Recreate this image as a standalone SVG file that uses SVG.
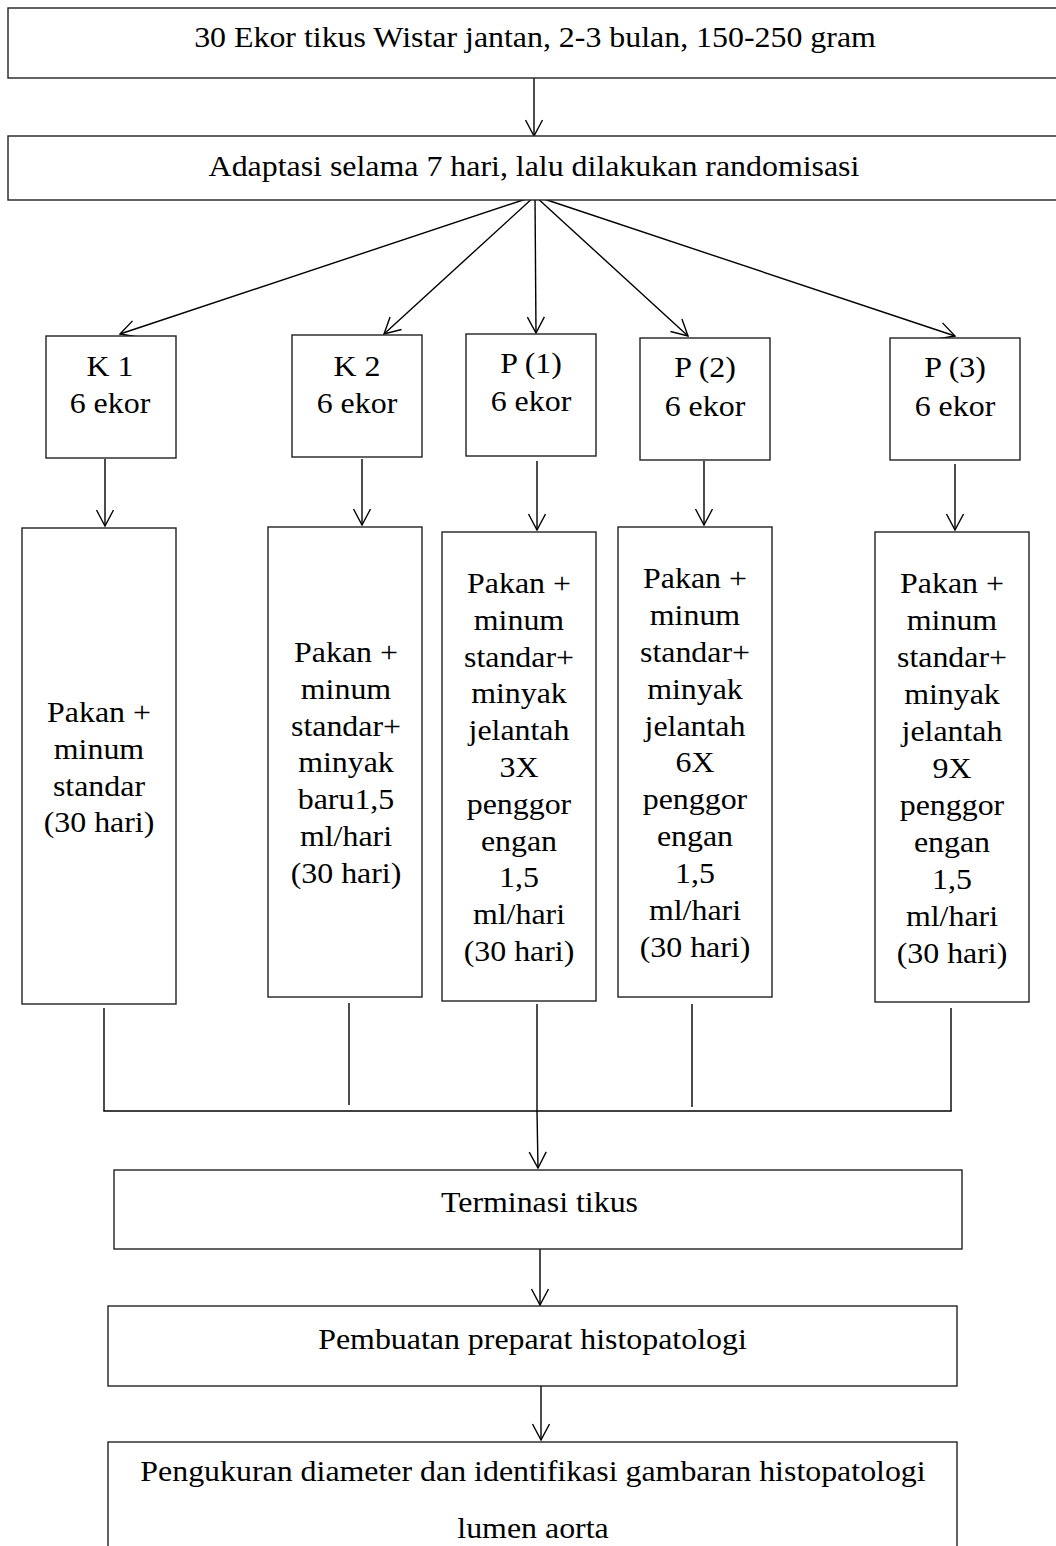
<svg xmlns="http://www.w3.org/2000/svg" width="1056" height="1546" viewBox="0 0 1056 1546">
<style>
.box{fill:#fff;stroke:#222;stroke-width:1.4}
.ln{fill:none;stroke:#000;stroke-width:1.4}
.ar{fill:none;stroke:#000;stroke-width:1.4;marker-end:url(#ah)}
text{font-family:"Liberation Serif","Times New Roman",serif;font-size:29px;fill:#000;text-anchor:middle}
</style>
<defs>
<marker id="ah" markerUnits="userSpaceOnUse" viewBox="-18 -10 20 20" refX="0" refY="0" markerWidth="20" markerHeight="20" orient="auto">
<path d="M-16,-8.5 L0,0 L-16,8.5" fill="none" stroke="#000" stroke-width="1.4"/>
</marker>
</defs>
<rect width="1056" height="1546" fill="#fff"/>

<g id="connectors">
<line class="ar" x1="534" y1="78" x2="534" y2="136"/>
<line class="ar" x1="535" y1="196" x2="120" y2="334"/>
<line class="ar" x1="535" y1="196" x2="384" y2="334"/>
<line class="ar" x1="535" y1="196" x2="536" y2="333"/>
<line class="ar" x1="535" y1="196" x2="688" y2="336"/>
<line class="ar" x1="535" y1="196" x2="955" y2="336"/>
<line class="ar" x1="105" y1="459" x2="105" y2="526"/>
<line class="ar" x1="362" y1="459" x2="362" y2="525"/>
<line class="ar" x1="537" y1="461" x2="537" y2="530"/>
<line class="ar" x1="704" y1="461" x2="704" y2="525"/>
<line class="ar" x1="955" y1="464" x2="955" y2="530"/>
<line class="ln" x1="104" y1="1008" x2="104" y2="1111"/>
<line class="ln" x1="349" y1="1003" x2="349" y2="1105"/>
<line class="ln" x1="537" y1="1004" x2="537" y2="1111"/>
<line class="ln" x1="692" y1="1004" x2="692" y2="1107"/>
<line class="ln" x1="951" y1="1008" x2="951" y2="1111"/>
<line class="ln" x1="103.3" y1="1111" x2="951.7" y2="1111"/>
<line class="ar" x1="537" y1="1111" x2="538" y2="1168"/>
<line class="ar" x1="540" y1="1249" x2="540" y2="1305"/>
<line class="ar" x1="541" y1="1386" x2="541" y2="1440"/>
</g>

<g id="n-start">
<rect class="box" x="8" y="8" width="1060" height="70"/>
<text transform="translate(535 0) scale(1.1 1)" x="0" y="47.5">30 Ekor tikus Wistar jantan, 2-3 bulan, 150-250 gram</text>
</g>
<g id="n-adaptasi">
<rect class="box" x="8" y="136" width="1060" height="64"/>
<text transform="translate(534 0) scale(1.1 1)" x="0" y="176">Adaptasi selama 7 hari, lalu dilakukan randomisasi</text>
</g>

<g id="n-k1">
<rect class="box" x="46" y="336" width="130" height="122"/>
<text transform="translate(110 0) scale(1.1 1)" x="0" y="376"><tspan x="0">K 1</tspan><tspan x="0" dy="37.3">6 ekor</tspan></text>
</g>
<g id="n-k2">
<rect class="box" x="292" y="335" width="130" height="122"/>
<text transform="translate(357 0) scale(1.1 1)" x="0" y="376"><tspan x="0">K 2</tspan><tspan x="0" dy="37.3">6 ekor</tspan></text>
</g>
<g id="n-p1">
<rect class="box" x="466" y="334" width="130" height="122"/>
<text transform="translate(531 0) scale(1.1 1)" x="0" y="373"><tspan x="0">P (1)</tspan><tspan x="0" dy="38.5">6 ekor</tspan></text>
</g>
<g id="n-p2">
<rect class="box" x="640" y="338" width="130" height="122"/>
<text transform="translate(705 0) scale(1.1 1)" x="0" y="377"><tspan x="0">P (2)</tspan><tspan x="0" dy="39.5">6 ekor</tspan></text>
</g>
<g id="n-p3">
<rect class="box" x="890" y="338" width="130" height="122"/>
<text transform="translate(955 0) scale(1.1 1)" x="0" y="377"><tspan x="0">P (3)</tspan><tspan x="0" dy="39.5">6 ekor</tspan></text>
</g>

<g id="n-k1-treat">
<rect class="box" x="22" y="528" width="154" height="476"/>
<text transform="translate(99 0) scale(1.1 1)" x="0" y="722"><tspan x="0">Pakan +</tspan><tspan x="0" dy="36.8">minum</tspan><tspan x="0" dy="36.8">standar</tspan><tspan x="0" dy="36.8">(30 hari)</tspan></text>
</g>
<g id="n-k2-treat">
<rect class="box" x="268" y="527" width="154" height="470"/>
<text transform="translate(346 0) scale(1.1 1)" x="0" y="662"><tspan x="0">Pakan +</tspan><tspan x="0" dy="36.8">minum</tspan><tspan x="0" dy="36.8">standar+</tspan><tspan x="0" dy="36.8">minyak</tspan><tspan x="0" dy="36.8">baru1,5</tspan><tspan x="0" dy="36.8">ml/hari</tspan><tspan x="0" dy="36.8">(30 hari)</tspan></text>
</g>
<g id="n-p1-treat">
<rect class="box" x="442" y="532" width="154" height="469"/>
<text transform="translate(519 0) scale(1.1 1)" x="0" y="593"><tspan x="0">Pakan +</tspan><tspan x="0" dy="36.8">minum</tspan><tspan x="0" dy="36.8">standar+</tspan><tspan x="0" dy="36.8">minyak</tspan><tspan x="0" dy="36.8">jelantah</tspan><tspan x="0" dy="36.8">3X</tspan><tspan x="0" dy="36.8">penggor</tspan><tspan x="0" dy="36.8">engan</tspan><tspan x="0" dy="36.8">1,5</tspan><tspan x="0" dy="36.8">ml/hari</tspan><tspan x="0" dy="36.8">(30 hari)</tspan></text>
</g>
<g id="n-p2-treat">
<rect class="box" x="618" y="527" width="154" height="470"/>
<text transform="translate(695 0) scale(1.1 1)" x="0" y="588"><tspan x="0">Pakan +</tspan><tspan x="0" dy="36.9">minum</tspan><tspan x="0" dy="36.9">standar+</tspan><tspan x="0" dy="36.9">minyak</tspan><tspan x="0" dy="36.9">jelantah</tspan><tspan x="0" dy="36.9">6X</tspan><tspan x="0" dy="36.9">penggor</tspan><tspan x="0" dy="36.9">engan</tspan><tspan x="0" dy="36.9">1,5</tspan><tspan x="0" dy="36.9">ml/hari</tspan><tspan x="0" dy="36.9">(30 hari)</tspan></text>
</g>
<g id="n-p3-treat">
<rect class="box" x="875" y="532" width="154" height="470"/>
<text transform="translate(952 0) scale(1.1 1)" x="0" y="593"><tspan x="0">Pakan +</tspan><tspan x="0" dy="37">minum</tspan><tspan x="0" dy="37">standar+</tspan><tspan x="0" dy="37">minyak</tspan><tspan x="0" dy="37">jelantah</tspan><tspan x="0" dy="37">9X</tspan><tspan x="0" dy="37">penggor</tspan><tspan x="0" dy="37">engan</tspan><tspan x="0" dy="37">1,5</tspan><tspan x="0" dy="37">ml/hari</tspan><tspan x="0" dy="37">(30 hari)</tspan></text>
</g>

<g id="n-terminasi">
<rect class="box" x="114" y="1170" width="848" height="79"/>
<text transform="translate(539.5 0) scale(1.1 1)" x="0" y="1212">Terminasi tikus</text>
</g>
<g id="n-pembuatan">
<rect class="box" x="108" y="1306" width="849" height="80"/>
<text transform="translate(532.5 0) scale(1.1 1)" x="0" y="1349">Pembuatan preparat histopatologi</text>
</g>
<g id="n-pengukuran">
<rect class="box" x="108" y="1442" width="849" height="130"/>
<text transform="translate(533 0) scale(1.1 1)" x="0" y="1481"><tspan x="0">Pengukuran diameter dan identifikasi gambaran histopatologi</tspan><tspan x="0" dy="57">lumen aorta</tspan></text>
</g>
</svg>
